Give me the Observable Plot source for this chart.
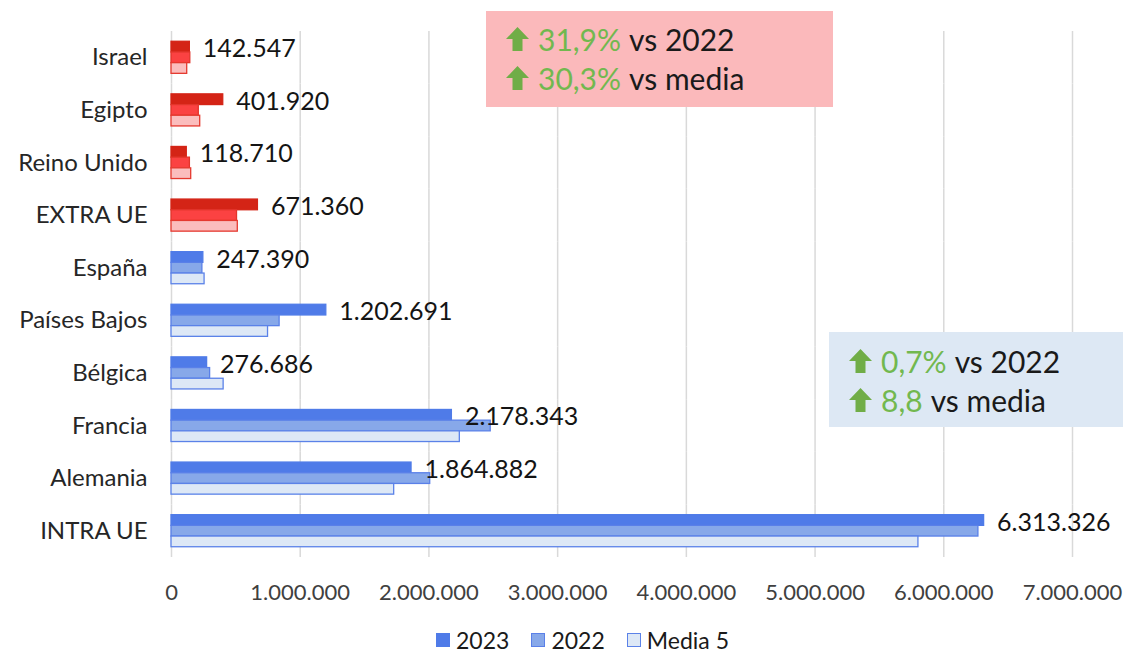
<!DOCTYPE html>
<html>
<head>
<meta charset="utf-8">
<script src="https://cdn.jsdelivr.net/npm/d3@7"></script>
<script src="https://cdn.jsdelivr.net/npm/@observablehq/plot@0.6"></script>
<style>
  html, body { margin: 0; padding: 0; background: #fff; }
  body { font-family: Lato, "Open Sans", sans-serif; }
  #wrap { position: relative; width: 1135px; height: 656px; overflow: hidden; }
  .box { position: absolute; box-sizing: border-box; font-size: 30px; color: #1a1a1a; }
  .line { position: absolute; left: 20px; display: flex; align-items: center; white-space: nowrap; height: 36px; }
  .line svg { margin-right: 9px; }
  .g { color: #72b84f; margin-right: 8px; }
  #legend { box-sizing: border-box; display: flex; justify-content: center; align-items: center; height: 32px; padding-left: 30px; font-size: 23px; line-height: 1; color: #1a1a1a; }
  .li { display: flex; align-items: center; margin: 0 11px; }
  .sw { width: 14px; height: 14px; margin-right: 6px; box-sizing: border-box; border: 1.5px solid; }
</style>
</head>
<body>
<div id="wrap">
  <div id="chart"></div>
  <div id="legend"></div>
</div>
<script>
// ---- data ----
const categories = ["Israel", "Egipto", "Reino Unido", "EXTRA UE", "España", "Países Bajos", "Bélgica", "Francia", "Alemania", "INTRA UE"];
const groups = ["extra", "extra", "extra", "extra", "intra", "intra", "intra", "intra", "intra", "intra"];
const seriesNames = ["2023", "2022", "Media 5"];
const v2023 = [142547, 401920, 118710, 671360, 247390, 1202691, 276686, 2178343, 1864882, 6313326];
const v2022 = [146000, 212000, 143000, 509000, 240000, 840000, 300000, 2480000, 2010000, 6269000];
const vMedia = [122000, 223000, 153000, 515000, 257000, 750000, 405000, 2240000, 1730000, 5803000];
const xTicks = [0, 1000000, 2000000, 3000000, 4000000, 5000000, 6000000, 7000000];
const notes = [
  {group: "extra", pct2022: "31,9%", pctMedia: "30,3%"},
  {group: "intra", pct2022: "0,7%", pctMedia: "8,8"}
];

// ---- styles ----
const palette = {
  intra: {
    "2023": {fill: "#4f7be8", stroke: "#4f7be8"},
    "2022": {fill: "#87a8e9", stroke: "#5a80e8"},
    "Media 5": {fill: "#dde8f6", stroke: "#5b82e8"}
  },
  extra: {
    "2023": {fill: "#d42416", stroke: "#d42416"},
    "2022": {fill: "#fb4242", stroke: "#e2352b"},
    "Media 5": {fill: "#fbbdbd", stroke: "#e5392f"}
  }
};

const fmt = d3.formatLocale({decimal: ",", thousands: ".", grouping: [3], currency: ["", ""]}).format(",d");
const valuesBySeries = [v2023, v2022, vMedia];
const rows = categories.flatMap((c, i) => seriesNames.map((s, j) => ({
  category: c, group: groups[i], series: s, value: valuesBySeries[j][i]
})));

const chart = Plot.plot({
  width: 1135,
  height: 624,
  marginLeft: 171,
  marginRight: 63,
  marginTop: 31,
  marginBottom: 67,
  style: {fontFamily: "Lato, 'Open Sans', sans-serif", background: "#fff"},
  x: {domain: [0, 7000000], axis: null},
  y: {domain: seriesNames, paddingInner: 0, paddingOuter: 0.96, round: false, axis: null},
  fy: {domain: categories, padding: 0, round: false, axis: null},
  color: {type: "identity"},
  marks: [
    Plot.gridX(xTicks, {stroke: "#d9d9d9", strokeOpacity: 1, strokeWidth: 1.5}),
    Plot.barX(rows, {
      x: "value", y: "series", fy: "category",
      fill: d => palette[d.group][d.series].fill,
      stroke: d => palette[d.group][d.series].stroke,
      strokeWidth: 1.3
    }),
    Plot.text(rows.filter(d => d.series === "2023"), {
      x: "value", y: "series", fy: "category",
      text: d => fmt(d.value), textAnchor: "start", dx: 13, dy: 2,
      fontSize: 25, fill: "#141414"
    }),
    Plot.axisX(xTicks, {anchor: "bottom", tickSize: 0, tickPadding: 27, tickFormat: fmt, fontSize: 22, fill: "#404040", label: null}),
    Plot.axisFy({anchor: "left", tickSize: 0, tickPadding: 24, fontSize: 24, fill: "#262626", label: null})
  ]
});
document.getElementById("chart").appendChild(chart);

// ---- legend ----
const legend = document.getElementById("legend");
seriesNames.forEach(s => {
  const item = document.createElement("div");
  item.className = "li";
  const sw = document.createElement("div");
  sw.className = "sw";
  sw.style.background = palette.intra[s].fill;
  sw.style.borderColor = palette.intra[s].stroke;
  item.appendChild(sw);
  const t = document.createElement("span");
  t.textContent = s;
  item.appendChild(t);
  legend.appendChild(item);
});

// ---- annotation boxes ----
const arrow = '<svg width="23" height="24" viewBox="0 0 23 24"><polygon points="11.5,0 23,12 16.5,12 16.5,24 6.5,24 6.5,12 0,12" fill="#70ad47"/></svg>';
const boxPos = {
  extra: {left: 486, top: 11, width: 347, height: 96, bg: "#fbb9bb", l1: 10, l2: 49},
  intra: {left: 829, top: 332, width: 294, height: 95, bg: "#dde8f4", l1: 11, l2: 50}
};
const wrap = document.getElementById("wrap");
notes.forEach(n => {
  const p = boxPos[n.group];
  const b = document.createElement("div");
  b.className = "box";
  Object.assign(b.style, {left: p.left + "px", top: p.top + "px", width: p.width + "px", height: p.height + "px", background: p.bg});
  b.innerHTML =
    `<div class="line" style="top:${p.l1}px">${arrow}<span class="g">${n.pct2022}</span><span>vs 2022</span></div>` +
    `<div class="line" style="top:${p.l2}px">${arrow}<span class="g">${n.pctMedia}</span><span>vs media</span></div>`;
  wrap.appendChild(b);
});
</script>
</body>
</html>
